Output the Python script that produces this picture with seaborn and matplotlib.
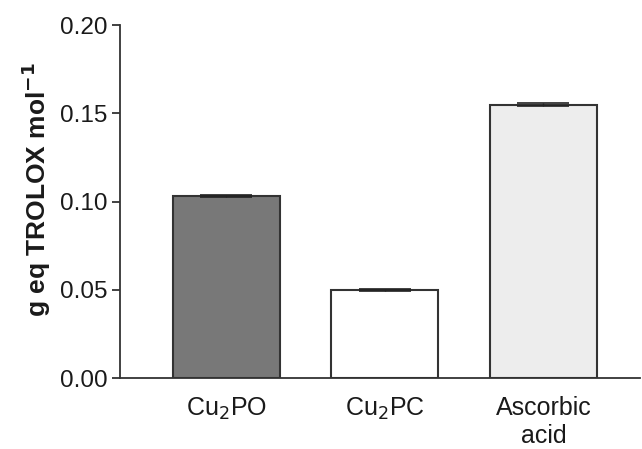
import matplotlib
matplotlib.use("Agg")
import matplotlib.pyplot as plt
import seaborn as sns
import pandas as pd

categories = ["Cu$_2$PO", "Cu$_2$PC", "Ascorbic\nacid"]
values = [0.103, 0.050, 0.155]
errors = [0.0006, 0.0006, 0.0010]
colors = ["#787878", "#ffffff", "#ededed"]

sns.set_theme(style="ticks")
plt.rcParams["font.family"] = ["Liberation Sans", "DejaVu Sans"]

df = pd.DataFrame({"cat": categories, "val": values})

fig = plt.figure(figsize=(6.42, 4.49), dpi=100)
ax = fig.add_axes([0.187, 0.158, 0.81, 0.786])
sns.barplot(data=df, x="cat", y="val", hue="cat", palette=colors, legend=False,
            width=0.675, edgecolor="#333333", linewidth=1.5, errorbar=None, ax=ax)
ax.errorbar(range(len(values)), values, yerr=errors, fmt="none", ecolor="#222222",
            elinewidth=1.0, capsize=19, capthick=1.2)

ax.set_ylim(0, 0.20)
ax.set_xlim(-0.67, 2.61)
ax.set_yticks([0, 0.05, 0.10, 0.15, 0.20])
ax.set_yticklabels(["0.00", "0.05", "0.10", "0.15", "0.20"])
ax.set_xlabel("")
ax.set_ylabel("g eq TROLOX mol$^{\\mathbf{-1}}$", fontsize=19, fontweight="bold",
              color="#1a1a1a")
ax.yaxis.set_label_coords(-0.128, 0.535)
ax.tick_params(axis="y", labelsize=17.5, length=6, width=1.3, color="#333333",
               labelcolor="#1a1a1a", pad=3)
ax.tick_params(axis="x", labelsize=18, length=0, pad=13, labelcolor="#1a1a1a")
for s in ["top", "right"]:
    ax.spines[s].set_visible(False)
for s in ["left", "bottom"]:
    ax.spines[s].set_linewidth(1.3)
    ax.spines[s].set_color("#333333")

fig.savefig("out.png", dpi=100)
